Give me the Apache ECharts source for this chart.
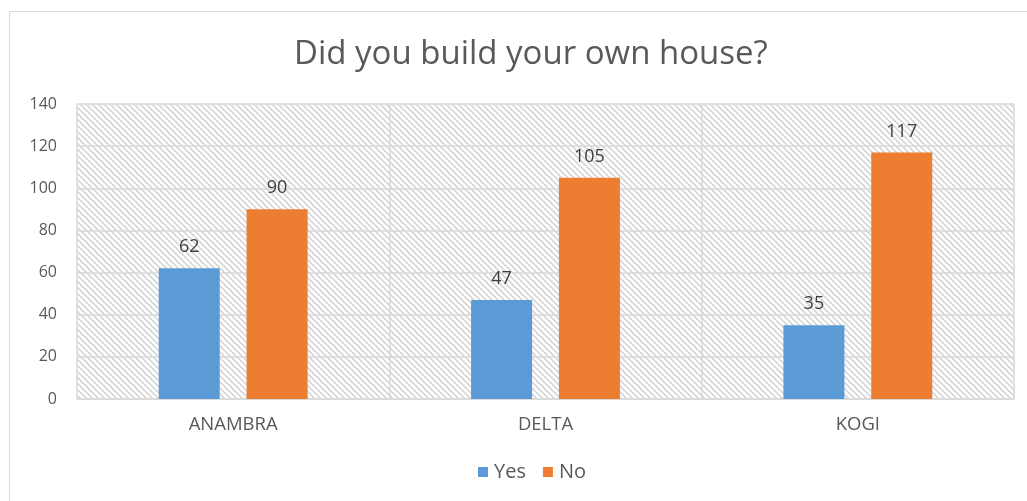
<!DOCTYPE html>
<html>
<head>
<meta charset="utf-8">
<script src="https://cdn.jsdelivr.net/npm/echarts@6/dist/echarts.min.js"></script>
<style>
  html, body { margin: 0; padding: 0; background: #fff; }
  #chart { width: 1027px; height: 501px; }
</style>
</head>
<body>
<div id="chart"></div>
<script>
// Survey answers per state
const categories = ['ANAMBRA', 'DELTA', 'KOGI'];
const yesValues = [62, 47, 35];
const noValues = [90, 105, 117];
const yTicks = { min: 0, max: 140, interval: 20 };

// Light downward-diagonal hatch used behind the plot
function hatchTile() {
  const s = 6;
  const c = document.createElement('canvas');
  c.width = s; c.height = s;
  const g = c.getContext('2d');
  g.fillStyle = '#ffffff';
  g.fillRect(0, 0, s, s);
  g.strokeStyle = '#d6d6d6';
  g.lineWidth = 1.6;
  g.beginPath();
  g.moveTo(-1, -1); g.lineTo(s + 1, s + 1);
  g.moveTo(-1, s - 1); g.lineTo(1, s + 1);
  g.moveTo(s - 1, -1); g.lineTo(s + 1, 1);
  g.stroke();
  return c;
}

const chart = echarts.init(document.getElementById('chart'), null, { renderer: 'canvas' });
const font = '"Open Sans", "Noto Sans", sans-serif';

const valueLabel = {
  show: true, position: 'top', distance: 12,
  color: '#404040', fontSize: 18, fontFamily: font
};

chart.setOption({
  backgroundColor: '#ffffff',
  animation: false,
  textStyle: { fontFamily: font },
  graphic: [{
    type: 'rect',
    shape: { x: 9.5, y: 11.5, width: 1030, height: 500 },
    style: { fill: 'none', stroke: '#d9d9d9', lineWidth: 1 },
    silent: true,
    z: -10
  }],
  title: {
    text: 'Did you build your own house?',
    left: 289,
    top: 33,
    textStyle: { fontFamily: font, fontSize: 33, fontWeight: 'normal', color: '#595959' }
  },
  legend: {
    bottom: 14,
    left: 473,
    itemWidth: 10,
    itemHeight: 10,
    itemGap: 17,
    icon: 'rect',
    textStyle: { fontFamily: font, fontSize: 20, color: '#595959', padding: [0, 0, 0, 1] },
    data: ['Yes', 'No']
  },
  grid: {
    left: 77,
    right: 13,
    top: 104,
    bottom: 102,
    show: true,
    borderWidth: 0,
    backgroundColor: { image: hatchTile(), repeat: 'repeat' }
  },
  xAxis: {
    type: 'category',
    data: categories,
    axisLine: { lineStyle: { color: '#d9d9d9', width: 1.5 } },
    axisTick: { show: false },
    splitLine: { show: true, lineStyle: { color: '#d9d9d9', width: 1.5 } },
    axisLabel: { color: '#595959', fontSize: 18.5, margin: 16, fontFamily: font }
  },
  yAxis: {
    type: 'value',
    min: yTicks.min,
    max: yTicks.max,
    interval: yTicks.interval,
    axisLine: { show: false },
    axisTick: { show: false },
    splitLine: { lineStyle: { color: '#d9d9d9', width: 1.5 } },
    axisLabel: { color: '#595959', fontSize: 16, margin: 20, fontFamily: font }
  },
  series: [
    {
      name: 'Yes',
      type: 'bar',
      data: yesValues,
      barWidth: 61,
      barGap: '44%',
      itemStyle: { color: '#5b9bd5' },
      label: valueLabel
    },
    {
      name: 'No',
      type: 'bar',
      data: noValues,
      barWidth: 61,
      barGap: '44%',
      itemStyle: { color: '#ed7d31' },
      label: valueLabel
    }
  ]
});
</script>
</body>
</html>
